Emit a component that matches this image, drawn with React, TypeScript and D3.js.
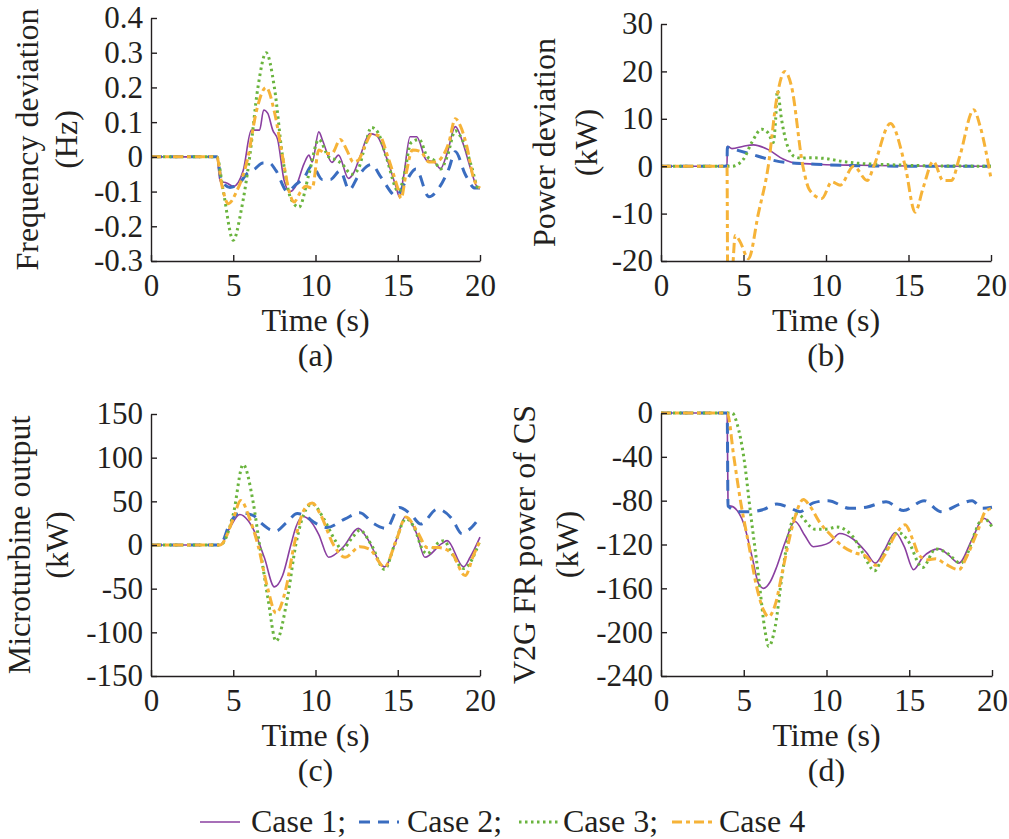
import * as d3 from 'd3'
import { useEffect, useRef } from 'react'

type Pt = [number, number]

// (a) frequency deviation, Hz
const freqCase1: Pt[] = [[0, 0], [4, 0], [4.2, -0.07], [4.6, -0.075], [5, -0.085], [5.6, -0.04], [6.1, 0.077], [6.6, 0.077], [6.85, 0.135], [7.1, 0.125], [7.4, 0.077], [7.7, 0.05], [8.1, -0.07], [8.45, -0.1], [8.85, -0.08], [9.3, -0.02], [9.6, 0.005], [9.8, -0.015], [10.2, 0.072], [10.45, 0.045], [11, -0.016], [11.4, 0.005], [12, -0.062], [12.3, -0.048], [12.7, 0], [13.3, 0.067], [13.7, 0.062], [14.3, 0], [14.9, -0.087], [15.1, -0.115], [15.35, -0.058], [15.75, 0.058], [16.15, 0.058], [16.75, -0.01], [17.2, -0.014], [17.6, -0.034], [18, 0.01], [18.5, 0.087], [19, 0.034], [19.4, -0.03], [19.9, -0.09], [20, -0.09]]
const freqCase2: Pt[] = [[0, 0], [4, 0], [4.3, -0.07], [4.8, -0.088], [5.4, -0.075], [5.8, -0.05], [6.3, -0.035], [6.8, -0.018], [7.2, -0.018], [7.6, -0.04], [8.3, -0.1], [8.8, -0.08], [9.3, -0.06], [9.8, -0.025], [10.4, -0.065], [10.9, -0.065], [11.5, -0.04], [12.05, -0.095], [12.6, -0.055], [13.4, -0.022], [14, -0.06], [14.9, -0.112], [15.5, -0.07], [16.1, -0.035], [16.9, -0.115], [17.5, -0.09], [18.1, -0.035], [18.5, 0.015], [19.1, -0.05], [19.7, -0.09], [20, -0.09]]
const freqCase3: Pt[] = [[0, 0], [4, 0], [4.4, -0.1], [5, -0.24], [5.5, -0.15], [6, 0], [6.5, 0.2], [7, 0.3], [7.5, 0.2], [8, 0], [8.5, -0.12], [9, -0.145], [9.6, -0.05], [10.2, 0.05], [10.8, 0], [11.3, -0.01], [11.6, -0.02], [12.2, -0.05], [12.6, -0.035], [13, 0.03], [13.4, 0.085], [13.8, 0.07], [14.3, 0], [15.05, -0.1], [15.4, -0.05], [15.8, 0.04], [16.3, 0.05], [16.8, 0], [17.2, -0.01], [17.6, -0.035], [18, 0], [18.5, 0.075], [18.8, 0.06], [19.1, 0.03], [19.5, -0.03], [19.9, -0.09], [20, -0.09]]
const freqCase4: Pt[] = [[0, 0], [4, 0], [4.3, -0.08], [4.7, -0.135], [5.2, -0.1], [5.9, 0], [6.4, 0.13], [7, 0.2], [7.5, 0.13], [8, 0], [8.4, -0.1], [8.7, -0.13], [9.1, -0.1], [9.4, -0.085], [9.8, -0.09], [10.2, 0.02], [10.6, 0.01], [11, 0.01], [11.5, 0.05], [11.9, 0.02], [12.3, -0.015], [12.6, -0.01], [13, 0.03], [13.4, 0.065], [13.9, 0.06], [14.4, 0], [15, -0.09], [15.2, -0.12], [15.5, -0.05], [15.9, 0.02], [16.4, 0.015], [16.9, -0.015], [17.3, -0.015], [17.7, 0], [18.1, 0.04], [18.5, 0.11], [18.8, 0.09], [19.2, 0.03], [19.6, -0.06], [20, -0.09]]

// (b) power deviation, kW
const powCase1: Pt[] = [[0, 0], [4, 0], [4.02, 4.2], [4.3, 3.7], [5, 4.2], [5.6, 4.5], [6.5, 3.5], [7.4, 1.5], [8.2, 0.6], [9, 0.5], [10, 0.3], [12, 0.2], [15, 0.05], [20, 0]]
const powCase2: Pt[] = [[0, 0], [4, 0], [4.02, 4], [4.5, 3.5], [5.5, 2.5], [6.5, 1.5], [7.5, 0.8], [9, 0.5], [10, 0.3], [12, 0.1], [15, 0], [20, 0]]
const powCase3: Pt[] = [[0, 0], [4.3, 0], [5, 1.5], [5.5, 5], [6.1, 7.8], [6.5, 7], [6.8, 5], [6.95, 10], [7.05, 16], [7.3, 10], [7.6, 5], [8.1, 2], [8.5, 1.7], [9, 1.8], [10, 1.6], [11, 1], [12, 0.6], [14, 0.3], [16, 0.1], [20, 0]]
const powCase4: Pt[] = [[0, 0], [4, 0], [4.05, -30], [4.3, -24], [4.5, -14.6], [4.8, -16], [5.3, -19.5], [5.9, -10], [6.5, 0], [7, 14], [7.5, 20], [7.9, 17], [8.6, 0], [9, -5], [9.75, -6.8], [10.35, -3.3], [10.86, -4], [11.67, 0], [12.5, -3], [12.9, 0], [13.9, 9], [14.8, 0], [15.4, -9.7], [15.9, -4.4], [16.5, 1], [17.1, -3], [17.6, -3], [18.1, 2], [18.95, 11.9], [19.35, 8.3], [20, -2.6]]

// (c) microturbine output, kW
const mtCase1: Pt[] = [[0, 0], [4.2, 0], [4.8, 20], [5.4, 35], [5.9, 28], [6.3, 15], [6.9, -15], [7.5, -48], [8, -35], [8.5, 0], [8.8, 20], [9.2, 33], [9.8, 25], [10.2, 12], [10.8, -14], [11.7, -2], [12.6, 19], [13.1, 9], [14.2, -25], [14.9, 5], [15.45, 32], [16.15, 13], [16.65, -14], [17.67, 1.5], [18, 5], [19, -25], [19.4, -14], [20, 9]]
const mtCase2: Pt[] = [[0, 0], [4.2, 0], [4.8, 25], [5.4, 37], [6.2, 34], [6.7, 25], [7.2, 18], [7.6, 16], [8.2, 25], [8.9, 36], [9.4, 33], [10, 25], [10.7, 20], [11.8, 30], [12.7, 37], [13.5, 25], [14.3, 19], [15.1, 43], [15.8, 35], [16.4, 24], [17.4, 41], [18.3, 30], [18.9, 13], [19.3, 17], [20, 32]]
const mtCase3: Pt[] = [[0, 0], [4.2, 0], [5, 35], [5.6, 92], [6.2, 50], [6.6, 0], [7.1, -60], [7.6, -110], [8.3, -60], [8.8, 0], [9.4, 40], [9.8, 47], [10.5, 30], [11.2, 5], [11.6, -5], [12.3, 10], [12.7, 17], [13.4, 0], [14.2, -28], [14.8, 0], [15.5, 30], [16, 20], [16.5, -5], [16.8, -10], [17.3, 0], [17.8, 5], [18.3, -10], [19, -27], [20, 5]]
const mtCase4: Pt[] = [[0, 0], [4.2, 0], [5, 30], [5.45, 51], [6, 30], [6.5, 0], [7.1, -50], [7.6, -78], [8.2, -50], [8.7, 0], [9.3, 40], [9.8, 48], [10.3, 35], [11.1, 0], [11.8, -14], [12.7, -2], [13.3, -5], [14.2, -25], [14.9, 5], [15.5, 32], [16.2, 15], [16.8, -3], [17.5, -3], [18.3, -10], [19.1, -35], [19.6, -12], [20, 5]]

// (d) V2G FR power of CS, kW
const v2gCase1: Pt[] = [[0, 0], [4, 0], [4.05, -84], [4.4, -86], [5, -101], [5.5, -131], [5.9, -156], [6.2, -160], [6.6, -154], [7, -140], [7.5, -118], [8.1, -99], [8.7, -112], [9.2, -122], [9.7, -121], [10.2, -118], [10.8, -110], [11.6, -115], [12.4, -127], [12.95, -137], [13.5, -125], [14.15, -109], [14.7, -122], [15.26, -143], [15.8, -132], [16.8, -124], [17.4, -130], [18, -137], [18.8, -115], [19.5, -96], [20, -102]]
const v2gCase2: Pt[] = [[0, 0], [4, 0], [4.05, -85], [4.8, -90], [5.4, -90], [6.2, -88], [7, -83], [7.7, -86], [8.4, -90], [9.2, -82], [10.1, -80], [11.4, -87], [12.4, -86], [13.6, -81], [14.65, -89], [15.9, -80], [16.9, -90], [18.1, -83], [18.8, -80], [19.4, -87], [20, -86]]
const v2gCase3: Pt[] = [[0, 0], [4.3, 0], [4.6, -10], [5, -40], [5.4, -90], [5.9, -150], [6.3, -200], [6.5, -213], [6.9, -195], [7.3, -150], [7.8, -105], [8.2, -92], [9.3, -106], [10, -106], [10.6, -104], [11.6, -113], [12.2, -128], [12.9, -144], [13.4, -131], [14.35, -109], [14.9, -116], [15.8, -141], [16.6, -124], [17.3, -128], [18.1, -137], [19.5, -96], [20, -104]]
const v2gCase4: Pt[] = [[0, 0], [4, 0], [4.4, -40], [4.8, -80], [5.3, -120], [5.8, -160], [6.2, -180], [6.5, -186], [6.9, -175], [7.4, -140], [8, -100], [8.6, -79], [9, -85], [9.6, -100], [10.3, -112], [11, -122], [11.8, -128], [12.3, -130], [13, -139], [13.5, -130], [14.2, -110], [14.75, -102], [15.2, -115], [15.6, -130], [16.1, -134], [16.6, -133], [17.2, -138], [18, -143], [18.5, -130], [19.2, -105], [19.6, -90], [20, -87]]

const timeTicks = [0, 5, 10, 15, 20]
const freqTicks = [-0.3, -0.2, -0.1, 0, 0.1, 0.2, 0.3, 0.4]
const powTicks = [-20, -10, 0, 10, 20, 30]
const mtTicks = [-150, -100, -50, 0, 50, 100, 150]
const v2gTicks = [-240, -200, -160, -120, -80, -40, 0]

const caseNames = ['Case 1', 'Case 2', 'Case 3', 'Case 4']

const FONT = "'Liberation Serif', 'Times New Roman', serif"
const INK = '#231f20'
const textStyle = { fontFamily: FONT, fontSize: '31px', fill: INK }

const caseStyles = [
  { stroke: '#8a3fa0', width: 1.6, dash: '' },
  { stroke: '#3a6dc0', width: 3, dash: '11,8' },
  { stroke: '#6ab43e', width: 3, dash: '2.5,3.5' },
  { stroke: '#f6b338', width: 3, dash: '10,4,4,4' },
]

type PanelProps = {
  id: string
  left: number
  top: number
  width: number
  height: number
  yDomain: [number, number]
  yTicks: number[]
  series: Pt[][]
  labels: string[]
  labelX: number[]
  tag: string
}

const Panel = ({ id, left, top, width, height, yDomain, yTicks, series, labels, labelX, tag }: PanelProps) => {
  const xRef = useRef<SVGGElement>(null)
  const yRef = useRef<SVGGElement>(null)

  const scaleX = d3.scaleLinear().domain([0, 20]).range([0, width])
  const scaleY = d3.scaleLinear().domain(yDomain).range([height, 0])
  const line = d3
    .line<Pt>()
    .x((d) => scaleX(d[0]))
    .y((d) => scaleY(d[1]))
    .curve(d3.curveMonotoneX)

  useEffect(() => {
    if (!xRef.current || !yRef.current) return
    d3.select(xRef.current)
      .call(d3.axisBottom(scaleX).tickValues(timeTicks).tickSizeInner(-6).tickSizeOuter(0).tickPadding(13).tickFormat(d3.format('d')))
      .call((g) => g.select('.domain').attr('stroke', INK).attr('stroke-width', 1.4))
      .call((g) => g.selectAll('line').attr('stroke', INK).attr('stroke-width', 1.4))
      .call((g) => g.selectAll('text').attr('fill', INK).style('font-size', '31px').style('font-family', FONT))
    d3.select(yRef.current)
      .call(d3.axisLeft(scaleY).tickValues(yTicks).tickSizeInner(-6).tickSizeOuter(0).tickPadding(8).tickFormat((d) => String(d)))
      .call((g) => g.select('.domain').attr('stroke', INK).attr('stroke-width', 1.4))
      .call((g) => g.selectAll('line').attr('stroke', INK).attr('stroke-width', 1.4))
      .call((g) => g.selectAll('text').attr('fill', INK).style('font-size', '31px').style('font-family', FONT))
  }, [])

  const midY = top + height / 2
  return (
    <g>
      <defs>
        <clipPath id={`clip-${id}`}>
          <rect x={0} y={-2} width={width + 2} height={height + 2} />
        </clipPath>
      </defs>
      <g transform={`translate(${left},${top})`}>
        <g clipPath={`url(#clip-${id})`}>
          {series.map((s, i) => (
            <path
              key={i}
              d={line(s) ?? ''}
              fill="none"
              stroke={caseStyles[i].stroke}
              strokeWidth={caseStyles[i].width}
              strokeDasharray={caseStyles[i].dash}
            />
          ))}
        </g>
        <g ref={xRef} transform={`translate(0,${height})`} />
        <g ref={yRef} />
      </g>
      {labels.map((t, i) => (
        <text
          key={t}
          transform={`translate(${labelX[i]},${midY}) rotate(-90)`}
          textAnchor="middle"
          dy="0.32em"
          style={{ ...textStyle, fontSize: '32px' }}
        >
          {t}
        </text>
      ))}
      <text x={left + width / 2} y={top + height + 70} textAnchor="middle" style={{ ...textStyle, fontSize: '32px' }}>
        Time (s)
      </text>
      <text x={left + width / 2} y={top + height + 105} textAnchor="middle" style={{ ...textStyle, fontSize: '32px' }}>
        {tag}
      </text>
    </g>
  )
}

const legendSample = [200, 359, 519, 672]
const legendText = [251, 407, 563, 719]

const App = () => {
  return (
    <svg width={1009} height={839} style={{ position: 'absolute', left: 0, top: 0, background: '#fff' }}>
      <Panel
        id="a"
        left={151}
        top={18}
        width={329}
        height={243}
        yDomain={[-0.3, 0.4]}
        yTicks={freqTicks}
        series={[freqCase1, freqCase2, freqCase3, freqCase4]}
        labels={['Frequency deviation', '(Hz)']}
        labelX={[28, 67]}
        tag="(a)"
      />
      <Panel
        id="b"
        left={661}
        top={24}
        width={330}
        height={237}
        yDomain={[-20, 30]}
        yTicks={powTicks}
        series={[powCase1, powCase2, powCase3, powCase4]}
        labels={['Power deviation', '(kW)']}
        labelX={[545, 587]}
        tag="(b)"
      />
      <Panel
        id="c"
        left={151}
        top={414}
        width={329}
        height={262}
        yDomain={[-150, 150]}
        yTicks={mtTicks}
        series={[mtCase1, mtCase2, mtCase3, mtCase4]}
        labels={['Microturbine output', '(kW)']}
        labelX={[20, 58]}
        tag="(c)"
      />
      <Panel
        id="d"
        left={661}
        top={413}
        width={331}
        height={263}
        yDomain={[-240, 0]}
        yTicks={v2gTicks}
        series={[v2gCase1, v2gCase2, v2gCase3, v2gCase4]}
        labels={['V2G FR power of CS', '(kW)']}
        labelX={[525, 568]}
        tag="(d)"
      />
      <g>
        {caseNames.map((name, i) => (
          <g key={name}>
            <line
              x1={legendSample[i]}
              x2={legendSample[i] + 40}
              y1={822}
              y2={822}
              stroke={caseStyles[i].stroke}
              strokeWidth={caseStyles[i].width}
              strokeDasharray={caseStyles[i].dash}
            />
            <text x={legendText[i]} y={832} style={{ ...textStyle, fontSize: '32px' }}>
              {name + (i < caseNames.length - 1 ? ';' : '')}
            </text>
          </g>
        ))}
      </g>
    </svg>
  )
}

export default App
